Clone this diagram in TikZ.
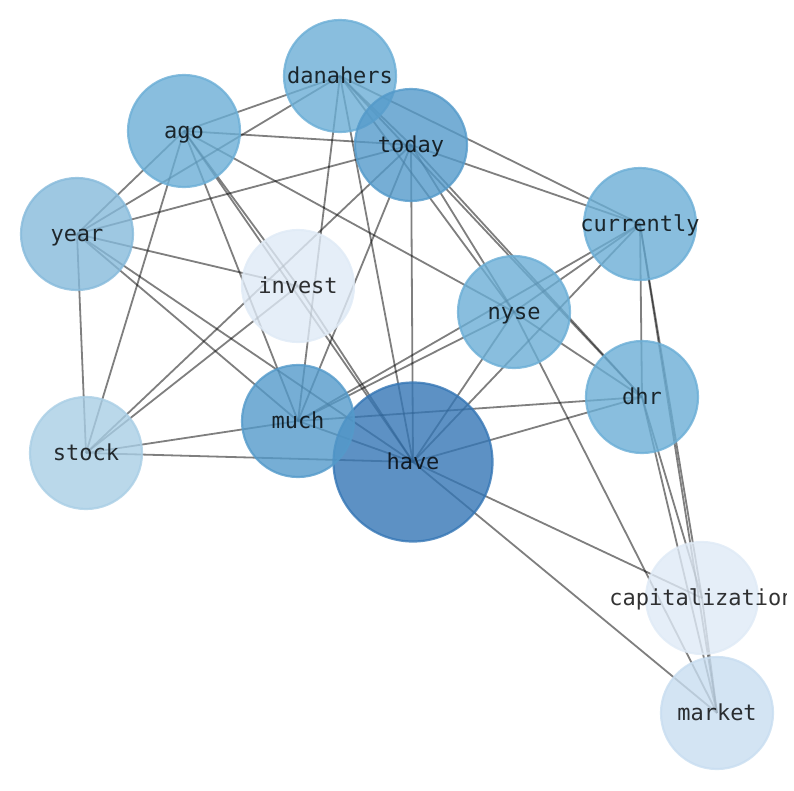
\documentclass[tikz,border=0pt]{standalone}
\usepackage{fontspec}
\newfontfamily\lblfont{DejaVu Sans Mono}
\pgfdeclarelayer{edges}
\pgfsetlayers{edges,main}
\definecolor{dg4}{RGB}{223,234,246}
\definecolor{dg5}{RGB}{200,221,240}
\definecolor{dg6}{RGB}{169,206,229}
\definecolor{dg7}{RGB}{134,186,219}
\definecolor{dg8}{RGB}{107,174,214}
\definecolor{dg9}{RGB}{84,154,202}
\definecolor{dg12}{RGB}{53,118,181}
\begin{document}
\begin{tikzpicture}[x=1pt,y=-1pt,
  word/.style={circle,minimum size=112pt,inner sep=0pt,line width=2.2pt,
    fill=#1,draw=#1,fill opacity=0.8,draw opacity=0.8},
  bigword/.style={minimum size=159pt},
  wlabel/.style={inner sep=0pt,text height=17pt,text depth=3pt,
    font=\lblfont\fontsize{22}{26}\selectfont,text=black,text opacity=0.8},
  link/.style={line width=1.8pt,draw=black,draw opacity=0.5}]
\useasboundingbox (0,0) rectangle (794,790);
% nodes
\node[word=dg8] (danahers) at (340,76) {};
\node[word=dg8] (ago) at (184,131) {};
\node[word=dg7] (year) at (77,234) {};
\node[word=dg4] (invest) at (298,286) {};
\node[word=dg9] (today) at (411,145) {};
\node[word=dg8] (currently) at (640,224) {};
\node[word=dg8] (nyse) at (514,312) {};
\node[word=dg8] (dhr) at (642,397) {};
\node[word=dg6] (stock) at (86,453) {};
\node[word=dg12,bigword] (have) at (413,462) {};
\node[word=dg9] (much) at (298,421) {};
\node[word=dg4] (capitalization) at (702,598) {};
\node[word=dg5] (market) at (717,713) {};
% labels
\foreach \n in {danahers,ago,year,invest,today,currently,nyse,dhr,stock,have,much,market}
  \node[wlabel] (l-\n) at (\n.center) {\n};
\begin{scope}
  \clip (0,0) rectangle (786,790);
  \node[wlabel] (l-capitalization) at (capitalization.center) {capitalization};
\end{scope}
% edges
\begin{pgfonlayer}{edges}
\foreach \a/\b in {danahers/ago,danahers/year,danahers/today,danahers/much,
  danahers/have,danahers/currently,danahers/nyse,danahers/dhr,
  ago/today,ago/year,ago/stock,ago/much,ago/have,ago/invest,ago/nyse,
  year/today,year/invest,year/stock,year/much,year/have,
  today/currently,today/nyse,today/dhr,today/have,today/much,today/stock,
  invest/stock,invest/have,
  currently/nyse,currently/much,currently/have,currently/dhr,
  currently/capitalization,currently/market,
  nyse/much,nyse/dhr,nyse/have,nyse/market,
  dhr/much,dhr/have,dhr/capitalization,dhr/market,
  much/stock,much/have,stock/have,
  have/capitalization,have/market,capitalization/market}
  \draw[link] (\a.center) -- (\b.center);
\end{pgfonlayer}
\end{tikzpicture}
\end{document}
